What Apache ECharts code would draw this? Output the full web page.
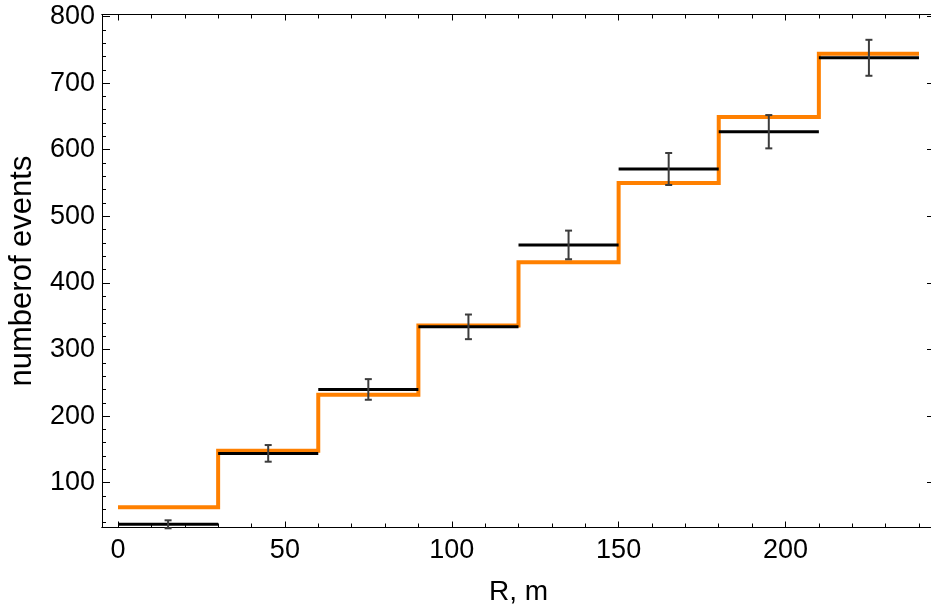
<!DOCTYPE html>
<html>
<head>
<meta charset="utf-8">
<script src="https://cdn.jsdelivr.net/npm/echarts@6/dist/echarts.min.js"></script>
<style>
html,body{margin:0;padding:0;background:#fff;}
#chart{width:931px;height:615px;}
</style>
</head>
<body>
<div id="chart"></div>
<script>
// ---- data ----
const binEdges = [0, 30, 60, 90, 120, 150, 180, 210, 240];
const modelValues = [63, 148, 232, 336, 431, 550, 649, 744];     // orange step histogram
const measuredValues = [37.5, 144, 240, 334, 457, 571, 627, 738]; // black bars
const measuredErrors = [6, 12.5, 15.5, 18.5, 21.5, 24, 25, 27];   // error bar half-heights
const xTickLabels = [0, 50, 100, 150, 200];
const xMinorTicks = [10, 20, 30, 40, 60, 70, 80, 90, 110, 120, 130, 140, 160, 170, 180, 190, 210, 220, 230, 240];
const yTickLabels = [100, 200, 300, 400, 500, 600, 700, 800];
const yMinorTicks = [40, 60, 80, 120, 140, 160, 180, 220, 240, 260, 280, 320, 340, 360, 380, 420, 440, 460, 480,
  520, 540, 560, 580, 620, 640, 660, 680, 720, 740, 760, 780];
const xTitle = 'R, m';
const yTitle = 'numberof events';

// ---- build series data ----
const stepData = [];
for (let i = 0; i < modelValues.length; i++) stepData.push([binEdges[i], modelValues[i]]);
stepData.push([binEdges[binEdges.length - 1], modelValues[modelValues.length - 1]]);

const barData = measuredValues.map((v, i) => [binEdges[i], binEdges[i + 1], v]);
const errData = measuredValues.map((v, i) => [(binEdges[i] + binEdges[i + 1]) / 2, v - measuredErrors[i], v + measuredErrors[i]]);

const X_MIN = -4.8, X_MAX = 244.8, Y_MIN = 32.7, Y_MAX = 803;
const FONT = '"Liberation Sans", Arial, sans-serif';

function xAxisDef(pos, ticks, len, labels) {
  return {
    type: 'value', position: pos, min: X_MIN, max: X_MAX,
    axisLine: { show: true, onZero: false, lineStyle: { color: '#000', width: 1 } },
    axisTick: { show: true, inside: true, length: len, customValues: ticks, lineStyle: { color: '#000', width: 1 } },
    axisLabel: labels ? { show: true, customValues: ticks, color: '#000', fontSize: 27, fontFamily: FONT, margin: 10 } : { show: false },
    splitLine: { show: false }
  };
}
function yAxisDef(pos, ticks, len, labels) {
  return {
    type: 'value', position: pos, min: Y_MIN, max: Y_MAX,
    axisLine: { show: true, onZero: false, lineStyle: { color: '#000', width: 1 } },
    axisTick: { show: true, inside: true, length: len, customValues: ticks, lineStyle: { color: '#000', width: 1 } },
    axisLabel: labels ? { show: true, customValues: ticks, color: '#000', fontSize: 27, fontFamily: FONT, margin: 7 } : { show: false },
    splitLine: { show: false }
  };
}

const xMain = xAxisDef('bottom', xTickLabels, 6, true);
xMain.name = xTitle;
xMain.nameLocation = 'middle';
xMain.nameGap = 51;
xMain.nameTextStyle = { color: '#000', fontSize: 28, fontFamily: FONT };

const yMain = yAxisDef('left', yTickLabels, 8, true);
yMain.name = yTitle;
yMain.nameLocation = 'middle';
yMain.nameGap = 64;
yMain.nameTextStyle = { color: '#000', fontSize: 31, fontFamily: FONT };

const chart = echarts.init(document.getElementById('chart'), null, { renderer: 'canvas' });
chart.setOption({
  animation: false,
  backgroundColor: '#fff',
  grid: { left: 102, top: 14.5, width: 833, height: 513, containLabel: false, outerBoundsMode: 'none' },
  xAxis: [
    xMain,
    xAxisDef('bottom', xMinorTicks, 4, false),
    xAxisDef('top', xTickLabels, 6, false),
    xAxisDef('top', xMinorTicks, 4, false)
  ],
  yAxis: [
    yMain,
    yAxisDef('left', yMinorTicks, 4, false),
    yAxisDef('right', yTickLabels, 8, false),
    yAxisDef('right', yMinorTicks, 4, false)
  ],
  series: [
    {
      type: 'line', step: 'end', data: stepData, symbol: 'none', z: 2,
      lineStyle: { color: '#FF8000', width: 4, cap: 'butt', join: 'miter' }
    },
    {
      type: 'custom', data: barData, z: 3,
      encode: { x: [0, 1], y: 2 },
      renderItem: function (params, api) {
        const a = api.coord([api.value(0), api.value(2)]);
        const b = api.coord([api.value(1), api.value(2)]);
        return { type: 'line', shape: { x1: a[0], y1: a[1], x2: b[0], y2: b[1] },
          style: { stroke: '#000', lineWidth: 3 } };
      }
    },
    {
      type: 'custom', data: errData, z: 4,
      encode: { x: 0, y: [1, 2] },
      renderItem: function (params, api) {
        const lo = api.coord([api.value(0), api.value(1)]);
        const hi = api.coord([api.value(0), api.value(2)]);
        const w = 3.5;
        const st = { stroke: '#3c3c3c', lineWidth: 2 };
        return { type: 'group', children: [
          { type: 'line', shape: { x1: lo[0], y1: lo[1], x2: hi[0], y2: hi[1] }, style: st },
          { type: 'line', shape: { x1: lo[0] - w, y1: lo[1], x2: lo[0] + w, y2: lo[1] }, style: st },
          { type: 'line', shape: { x1: hi[0] - w, y1: hi[1], x2: hi[0] + w, y2: hi[1] }, style: st }
        ] };
      }
    }
  ]
});
</script>
</body>
</html>
